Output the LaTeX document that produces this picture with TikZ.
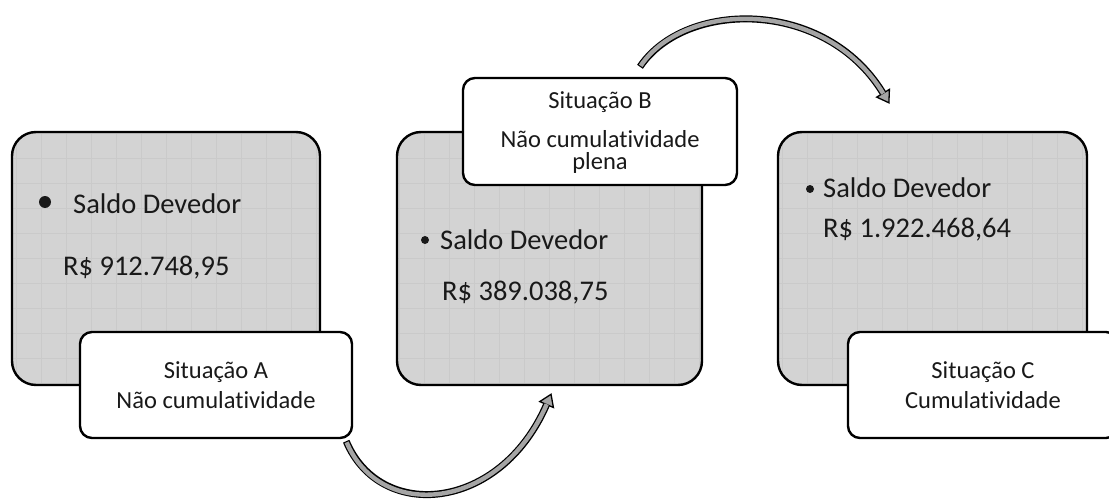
\documentclass[tikz,border=0pt]{standalone}
\usepackage{fontspec}
\setmainfont{Carlito}[Ligatures=CommonOff]
\usetikzlibrary{calc,arrows.meta}
\definecolor{boxgray}{RGB}{211,211,211}
\definecolor{gridgray}{RGB}{202,202,202}
\definecolor{arrgray}{RGB}{165,165,165}
\definecolor{txt}{RGB}{25,25,25}
\tikzset{
  graybox/.style={draw=black, line width=2.4pt, fill=boxgray, rounded corners=24pt,
    minimum height=253pt, inner sep=0pt,
    path picture={\draw[gridgray, line width=0.45pt, step=25pt]
      (path picture bounding box.south west) grid (path picture bounding box.north east);}},
  whitebox/.style={draw=black, line width=2.4pt, fill=white, rounded corners=12pt,
    inner sep=0pt},
  bigtxt/.style={anchor=base west, inner sep=0pt, text=txt, font=\fontsize{28.5}{33}\selectfont},
  smalltxt/.style={anchor=base, inner sep=0pt, text=txt, font=\fontsize{24.5}{29}\selectfont},
  bulletdot/.style={circle, fill=txt, inner sep=0pt},
  arrowout/.style={line width=7pt, black},
  arrowin/.style={line width=4.4pt, arrgray},
}
\begin{document}
\begin{tikzpicture}[x=1pt, y=-1pt]
\clip (0,0) rectangle (1109,503);
\fill[white] (0,0) rectangle (1109,503);

% gray boxes
\node[graybox, minimum width=308pt] (gA) at (166,258.5) {};
\node[graybox, minimum width=305pt] (gB) at (549.5,258.5) {};
\node[graybox, minimum width=309pt] (gC) at (932.5,258.5) {};

% texts in gray boxes
\node[bulletdot, minimum size=12pt] (bA) at (45,202) {};
\node[bigtxt] (sA) at (73,213) {Saldo Devedor};
\node[bigtxt] (vA) at (63,275) {R\$ 912.748,95};

\node[bulletdot, minimum size=8pt] (bB) at (425,240) {};
\node[bigtxt] (sB) at (440,249) {Saldo Devedor};
\node[bigtxt] (vB) at (442,300) {R\$ 389.038,75};

\node[bulletdot, minimum size=8pt] (bC) at (810,189) {};
\node[bigtxt] (sC) at (823,197) {Saldo Devedor};
\node[bigtxt] (vC) at (823,237) {R\$ 1.922.468,64};

% white boxes
\node[whitebox, minimum width=272pt, minimum height=106pt] (wA) at (216,385) {};
\node[whitebox, minimum width=274pt, minimum height=107pt] (wB) at (600,131.5) {};
\node[whitebox, minimum width=270pt, minimum height=106pt] (wC) at (983,385) {};

\node[smalltxt] (tA1) at (216,378) {Situação A};
\node[smalltxt] (tA2) at (216,408) {Não cumulatividade};
\node[smalltxt] (tB1) at (600,108) {Situação B};
\node[smalltxt, align=center, anchor=center,
      font=\fontsize{24.5}{22.5}\selectfont] (tB2) at (600,152) {Não cumulatividade\\plena};
\node[smalltxt] (tC1) at (983,378) {Situação C};
\node[smalltxt] (tC2) at (983,408) {Cumulatividade};

% bottom arrow: A -> B
\coordinate (a1s) at ($(wA.south east)+(-7,2)$);
\coordinate (a1e) at ($(gB.south)+(2,7)$);
\draw[arrowout, -{Triangle[length=13pt,width=17pt,line width=1.3pt,fill=arrgray]}]
  (a1s) .. controls (380,522) and (500,512) .. (a1e);
\draw[arrowin, shorten <=1.2pt, shorten >=12pt]
  (a1s) .. controls (380,522) and (500,512) .. (a1e);

% top arrow: B -> C
\coordinate (a2s) at ($(wB.north)+(40,-10)$);
\coordinate (a2e) at ($(gC.north)+(-43,-27)$);
\draw[arrowout, -{Triangle[length=13pt,width=17pt,line width=1.3pt,fill=arrgray]}]
  (a2s) .. controls (685,0) and (825,-2) .. (a2e);
\draw[arrowin, shorten <=1.2pt, shorten >=12pt]
  (a2s) .. controls (685,0) and (825,-2) .. (a2e);
\end{tikzpicture}
\end{document}
